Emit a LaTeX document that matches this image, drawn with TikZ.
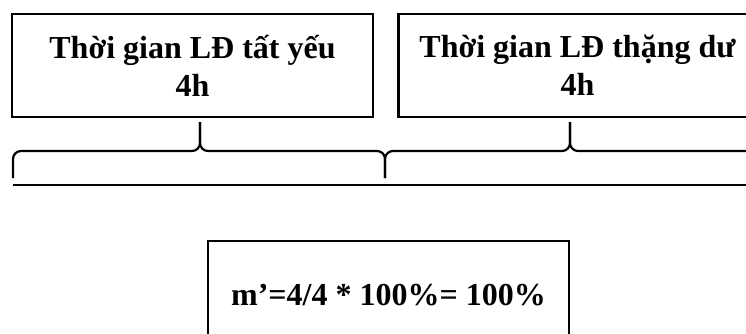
\documentclass[tikz,border=0pt]{standalone}
\usepackage{fontspec}
\setmainfont{Liberation Serif}
\usetikzlibrary{positioning}
\begin{document}
\begin{tikzpicture}[x=1pt, y=1pt, font=\fontsize{32}{38}\selectfont\bfseries, node distance=23pt,
  box/.style={draw, line width=2.5pt, align=center, minimum width=361pt, minimum height=103pt, inner sep=0pt},
  brace/.style={line width=2.2pt, rounded corners=8pt},
  base/.style={line width=2.5pt}]
\clip (0,0) rectangle (746,333);
\node[box] (tg1) at (192.5,267.5) {Thời gian LĐ tất yếu\\4h};
\node[box, minimum width=358pt, right=of tg1] (tg2) {Thời gian LĐ thặng dư\\4h};
\node[box, minimum height=108pt] (ms) at (388.5,38) {m’=4/4 * 100\%= 100\%};
% brace points
\coordinate (e0) at (13,155); \coordinate (c) at (385,155); \coordinate (e1) at (755,155);
\coordinate (t1) at (200,211); \coordinate (t2) at (570,211);
\coordinate (mid) at (0,182); \coordinate (low) at (0,148);
\draw[brace] (e0) -- (e0 |- mid) -- (t1 |- mid) -- (t1);
\draw[brace] (c) -- (c |- mid) -- (t1 |- mid) -- (t1);
\draw[brace] (c) -- (c |- mid) -- (t2 |- mid) -- (t2);
\draw[brace] (e1) -- (e1 |- mid) -- (t2 |- mid) -- (t2);
\draw[base] (e0 |- low) -- (e1 |- low);
\end{tikzpicture}
\end{document}
